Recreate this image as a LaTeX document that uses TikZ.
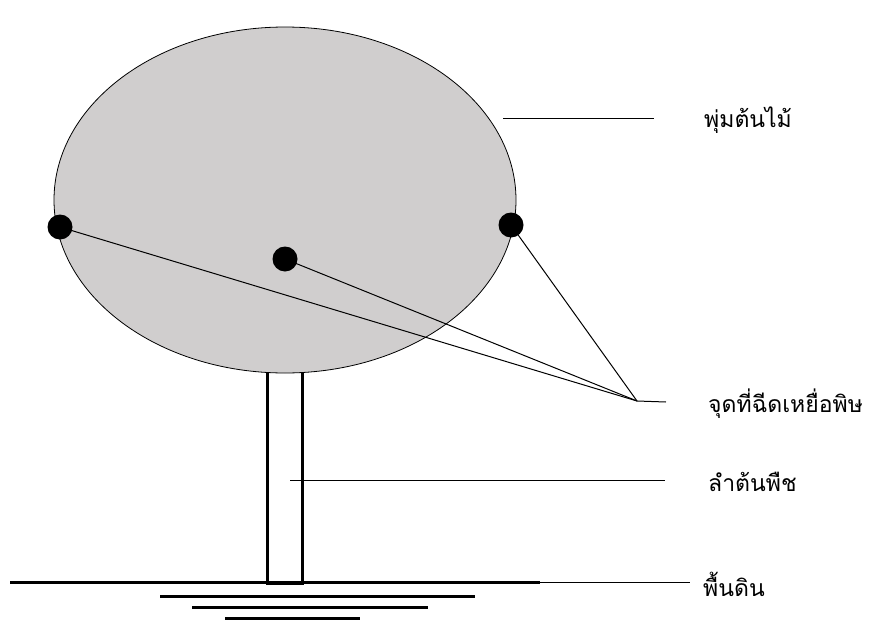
\documentclass[tikz,border=0pt]{standalone}
\usepackage{fontspec}
\newfontfamily\thaifont[Script=Thai]{Loma}
\definecolor{bushgray}{RGB}{208,206,206}
\tikzset{
  dot/.style={circle, fill=black, inner sep=0pt, minimum size=25pt},
  lbl/.style={anchor=west, inner sep=0pt, font=\thaifont\fontsize{23}{27}\selectfont},
  trunkbox/.style={draw, line width=3pt, inner sep=0pt, minimum width=35pt, minimum height=217pt},
  pointer/.style={line width=1pt}
}
\begin{document}
\begin{tikzpicture}[x=1pt,y=-1pt]
\useasboundingbox (0,0) rectangle (873,621);

% trunk under the bush
\node[trunkbox] (trunk) at (284.5,474.5) {};

% bush
\draw[fill=bushgray, line width=0.8pt] (285,200) ellipse (231pt and 173pt);

% ground
\draw[line width=3pt] (10,582) coordinate (gl) -- (540,582) coordinate (gr);
\draw[pointer] (gr) -- (690,582) coordinate (ge);
\draw[line width=3pt] (160,596) -- (475,596);
\draw[line width=3pt] (192,607) -- (428,607);
\draw[line width=3pt] (225,618) -- (360,618);

% bait points
\node[dot] (dotL) at (60,227) {};
\node[dot] (dotM) at (285,259) {};
\node[dot] (dotR) at (511,225) {};
\coordinate (tip) at (637,401);
\draw[pointer] (dotL.center) -- (tip);
\draw[pointer] (dotM.center) -- (tip);
\draw[pointer] (dotR.center) -- (tip);

% labels
\node[lbl] (bushlabel) at (704,120) {พุ่มต้นไม้};
\node[lbl] (baitlabel) at (708,404) {จุดที่ฉีดเหยื่อพิษ};
\node[lbl] (trunklabel) at (708,482) {ลำต้นพืช};
\node[lbl] (groundlabel) at (703,584) {พื้นดิน};

\coordinate (bushpt) at (503,118);
\coordinate (trunkpt) at (290,480);
\draw[pointer] (bushpt) -- (654,118);
\draw[pointer] (tip) -- (666,402);
\draw[pointer] (trunkpt) -- (665,480);
\end{tikzpicture}
\end{document}
